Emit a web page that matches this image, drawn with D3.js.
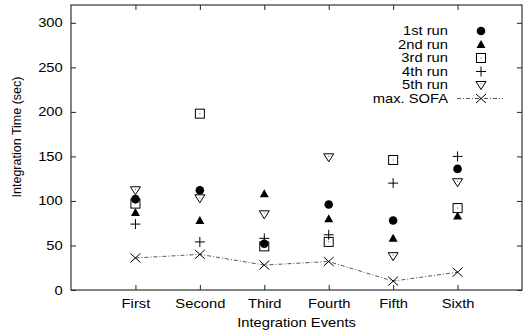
<!DOCTYPE html>
<html>
<head>
<meta charset="utf-8">
<script src="https://cdn.jsdelivr.net/npm/d3@7"></script>
<style>
  body { margin: 0; background: #fff; }
  text { font-family: "Liberation Sans", Arial, sans-serif; }
</style>
</head>
<body>
<svg id="chart" width="529" height="333"></svg>
<script>
// data
const events = ["First", "Second", "Third", "Fourth", "Fifth", "Sixth"];
const run1 = [102, 112, 52, 96, 78, 136];
const run2 = [87, 78, 108, 80, 58, 83];
const run3 = [97, 198, 49, 54, 146, 92];
const run4 = [74, 54, 58, 62, 120, 150];
const run5 = [112, 103, 85, 149, 38, 121];
const maxSofa = [36, 40, 28, 32, 10, 20];
const yTicks = [0, 50, 100, 150, 200, 250, 300];

const series = [
    {name: "1st run", values: run1, sym: "circle"},
    {name: "2nd run", values: run2, sym: "triup"},
    {name: "3rd run", values: run3, sym: "square"},
    {name: "4th run", values: run4, sym: "plus"},
    {name: "5th run", values: run5, sym: "tridown"},
];

const margin = {top: 5, right: 7, bottom: 43, left: 71};
const width = 529 - margin.left - margin.right;
const height = 333 - margin.top - margin.bottom;
const fs = 12.5;
const stretch = 1.18; // the original text looks widened horizontally

const svg = d3.select("#chart");
const g = svg.append("g").attr("transform", `translate(${margin.left},${margin.top})`);

const x = d3.scaleLinear().domain([0, 7]).range([0, width]);
const y = d3.scaleLinear().domain([0, 320]).range([height, 0]);
const xi = i => x(i + 1);

// axes with mirrored ticks
const tickLen = 5;
g.append("g").attr("transform", `translate(0,${height})`)
    .call(d3.axisBottom(x).tickValues(d3.range(1, 7)).tickFormat(d => events[d - 1]).tickSizeInner(-tickLen).tickSizeOuter(0).tickPadding(9))
    .call(a => a.select(".domain").remove());
g.append("g")
    .call(d3.axisTop(x).tickValues(d3.range(1, 7)).tickFormat("").tickSizeInner(-tickLen).tickSizeOuter(0))
    .call(a => a.select(".domain").remove());
g.append("g")
    .call(d3.axisLeft(y).tickValues(yTicks).tickSizeInner(-tickLen).tickSizeOuter(0).tickPadding(7))
    .call(a => a.select(".domain").remove());
g.append("g").attr("transform", `translate(${width},0)`)
    .call(d3.axisRight(y).tickValues(yTicks).tickFormat("").tickSizeInner(-tickLen).tickSizeOuter(0))
    .call(a => a.select(".domain").remove());

g.selectAll(".tick line").attr("stroke", "#222");
g.selectAll(".tick text").attr("font-size", fs).attr("fill", "#000")
    .attr("font-family", "Liberation Sans, Arial, sans-serif")
    .attr("transform", `scale(${stretch},1)`);

g.append("rect").attr("width", width).attr("height", height)
    .attr("fill", "none").attr("stroke", "#333").attr("stroke-width", 1.2);

// axis titles
svg.append("text").attr("transform", `translate(${margin.left + width / 2},327) scale(${stretch},1)`)
    .attr("text-anchor", "middle").attr("font-size", fs).text("Integration Events");
svg.append("text").attr("transform", `translate(21,137) rotate(-90)`)
    .attr("text-anchor", "middle").attr("font-size", fs).text("Integration Time (sec)");

// symbols
function drawSym(sel, sym, cx, cy) {
    const s = sel.append("g").attr("transform", `translate(${cx},${cy})`);
    if (sym === "circle") {
        s.append("circle").attr("r", 4.3).attr("fill", "#000");
    } else if (sym === "triup") {
        s.append("path").attr("d", "M0,-4.5L4.5,3.5L-4.5,3.5Z").attr("fill", "#000");
    } else if (sym === "square") {
        s.append("rect").attr("x", -4.5).attr("y", -4.5).attr("width", 9).attr("height", 9)
            .attr("fill", "none").attr("stroke", "#000").attr("stroke-width", 1);
        s.append("rect").attr("x", -0.5).attr("y", -0.5).attr("width", 1).attr("height", 1).attr("fill", "#555");
    } else if (sym === "plus") {
        s.append("path").attr("d", "M-5,0H5M0,-5V5").attr("stroke", "#000").attr("stroke-width", 1);
    } else if (sym === "tridown") {
        s.append("path").attr("d", "M-5,-3.5L5,-3.5L0,4.5Z").attr("fill", "none").attr("stroke", "#000").attr("stroke-width", 1);
        s.append("rect").attr("x", -0.5).attr("y", -1.5).attr("width", 1).attr("height", 1).attr("fill", "#555");
    } else if (sym === "cross") {
        s.append("path").attr("d", "M-5,-4.5L5,4.5M-5,4.5L5,-4.5").attr("stroke", "#000").attr("stroke-width", 1);
    }
}

// max SOFA dash-dot line
const line = d3.line().x((d, i) => xi(i)).y(d => y(d));
g.append("path").datum(maxSofa).attr("d", line)
    .attr("fill", "none").attr("stroke", "#444").attr("stroke-width", 0.9)
    .attr("stroke-dasharray", "4,2,1,2");
maxSofa.forEach((v, i) => drawSym(g, "cross", xi(i), y(v)));

series.forEach(sr => {
    sr.values.forEach((v, i) => drawSym(g, sr.sym, xi(i), y(v)));
});

// legend
const legend = svg.append("g");
const rowY = i => 31 + i * 13.5;
const legendText = (label, yy) => legend.append("text")
    .attr("transform", `translate(448,${yy}) scale(${stretch},1)`)
    .attr("dy", "0.35em").attr("text-anchor", "end").attr("font-size", fs).text(label);
series.forEach((sr, i) => {
    legendText(sr.name, rowY(i));
    drawSym(legend, sr.sym, 481, rowY(i));
});
const ly = rowY(5);
legendText("max. SOFA", ly);
legend.append("line").attr("x1", 457).attr("x2", 503).attr("y1", ly).attr("y2", ly)
    .attr("stroke", "#444").attr("stroke-width", 0.9).attr("stroke-dasharray", "4,2,1,2");
drawSym(legend, "cross", 481, ly);
</script>
</body>
</html>
